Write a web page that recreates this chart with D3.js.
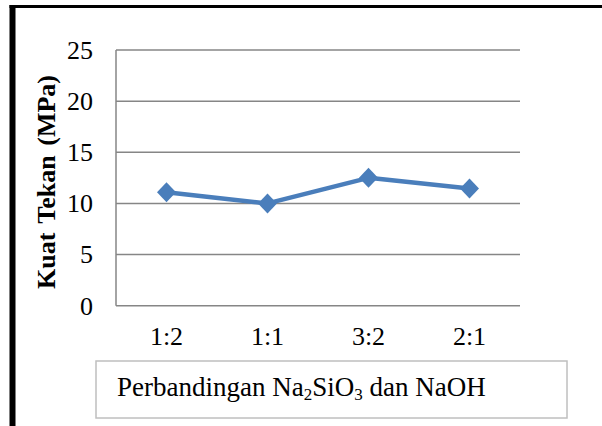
<!DOCTYPE html>
<html>
<head>
<meta charset="utf-8">
<script src="https://cdn.jsdelivr.net/npm/d3@7"></script>
<style>
  body { margin: 0; background: #fff; }
  svg { display: block; }
  text { font-family: "Liberation Serif", "Times New Roman", serif; }
</style>
</head>
<body>
<svg class="chart" width="602" height="426"></svg>
<script>
let ratios = ["1:2", "1:1", "3:2", "2:1"];
let strength = [11.1, 10.0, 12.5, 11.45];
let yTicks = [0, 5, 10, 15, 20, 25];

let svg = d3.select("body").select(".chart");
let font = "Liberation Serif, Times New Roman, serif";

let margin = {top: 50, right: 82, bottom: 120, left: 116};
let plotWidth = 602 - margin.left - margin.right;   // 404
let plotHeight = 305.7 - margin.top;

// frame (black left + top edges)
svg.append("rect").attr("x", 9.5).attr("y", 5).attr("width", 6).attr("height", 421).attr("fill", "#000");
svg.append("rect").attr("x", 9.5).attr("y", 5).attr("width", 593).attr("height", 3).attr("fill", "#000");

let x = d3.scaleBand().domain(ratios).range([0, plotWidth]);
let y = d3.scaleLinear().domain([0, 25]).range([plotHeight, 0]);

let plot = svg.append("g").attr("transform", translate(margin.left, margin.top));

// gridlines
plot.selectAll(".grid")
  .data(yTicks)
  .enter().append("line")
  .attr("x1", 0).attr("x2", plotWidth)
  .attr("y1", d => y(d)).attr("y2", d => y(d))
  .attr("stroke", "#868686").attr("stroke-width", 1.5);

plot.append("line")
  .attr("x1", 0).attr("x2", 0)
  .attr("y1", y(25)).attr("y2", y(0))
  .attr("stroke", "#868686").attr("stroke-width", 1.5);

// y tick labels
let yAxis = d3.axisLeft(y).tickValues(yTicks).tickSize(0).tickPadding(23);
let yGroup = plot.append("g").call(yAxis)
  .attr("font-family", font).attr("font-size", 26);
yGroup.select(".domain").remove();
yGroup.selectAll("text").attr("fill", "#000");

// x tick labels
let xAxis = d3.axisBottom(x).tickSize(0).tickPadding(21);
let xGroup = plot.append("g").attr("transform", translate(0, plotHeight)).call(xAxis)
  .attr("font-family", font).attr("font-size", 26);
xGroup.select(".domain").remove();
xGroup.selectAll("text").attr("fill", "#000");

// line + markers
let line = d3.line()
  .x((d, i) => x(ratios[i]) + x.bandwidth() / 2)
  .y(d => y(d));

plot.append("path")
  .datum(strength)
  .attr("d", line)
  .attr("fill", "none")
  .attr("stroke", "#4a7ebb")
  .attr("stroke-width", 4.5)
  .attr("stroke-linejoin", "round");

plot.selectAll(".marker")
  .data(strength)
  .enter().append("path")
  .attr("class", "marker")
  .attr("d", "M0,-10L9.5,0L0,10L-9.5,0Z")
  .attr("transform", (d, i) => translate(x(ratios[i]) + x.bandwidth() / 2, y(d)))
  .attr("fill", "#4a7ebb");

// y-axis title
svg.append("text")
  .attr("transform", translate(55, 182) + " rotate(-90)")
  .attr("text-anchor", "middle")
  .attr("font-family", font)
  .attr("font-size", 26)
  .attr("font-weight", "bold")
  .attr("word-spacing", 3)
  .text("Kuat Tekan (MPa)");

// x-axis title box
svg.append("rect")
  .attr("x", 96).attr("y", 361).attr("width", 471).attr("height", 57)
  .attr("fill", "#fff").attr("stroke", "#bfbfbf").attr("stroke-width", 1.5);

let title = svg.append("text")
  .attr("x", 117).attr("y", 396)
  .attr("font-family", font)
  .attr("font-size", 27)
  .attr("fill", "#000");
title.append("tspan").text("Perbandingan Na");
title.append("tspan").attr("dy", 4).attr("font-size", 17).text("2");
title.append("tspan").attr("dy", -4).text("SiO");
title.append("tspan").attr("dy", 4).attr("font-size", 17).text("3");
title.append("tspan").attr("dy", -4).text(" dan NaOH");

function translate(x, y) {
  return "translate(" + x + "," + y + ")";
}
</script>
</body>
</html>
